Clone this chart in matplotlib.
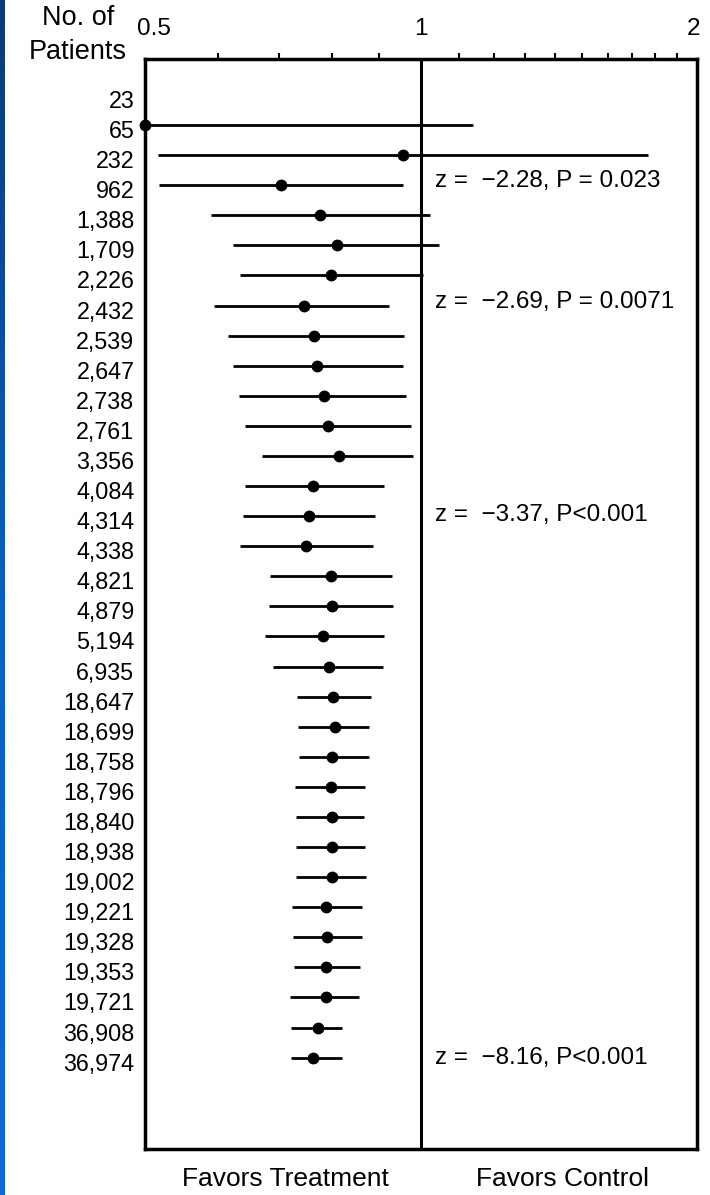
import numpy as np
import matplotlib
matplotlib.use("Agg")
import matplotlib.pyplot as plt
from matplotlib.ticker import NullFormatter, FixedLocator
from matplotlib.transforms import ScaledTranslation
from matplotlib.colors import LinearSegmentedColormap

plt.rcParams['font.family'] = ['Liberation Sans', 'DejaVu Sans']

# ---- data ----
patients = ["23", "65", "232", "962", "1,388", "1,709", "2,226", "2,432", "2,539",
            "2,647", "2,738", "2,761", "3,356", "4,084", "4,314", "4,338", "4,821",
            "4,879", "5,194", "6,935", "18,647", "18,699", "18,758", "18,796",
            "18,840", "18,938", "19,002", "19,221", "19,328", "19,353", "19,721",
            "36,908", "36,974"]

odds_ratio = [np.nan, 0.50, 0.957, 0.703, 0.776, 0.810, 0.797, 0.745, 0.765,
              0.771, 0.783, 0.792, 0.814, 0.763, 0.754, 0.749, 0.798,
              0.799, 0.781, 0.794, 0.802, 0.805, 0.800, 0.798,
              0.799, 0.799, 0.800, 0.788, 0.789, 0.787, 0.788,
              0.772, 0.763]

ci_low = [np.nan, 0.25, 0.516, 0.518, 0.590, 0.624, 0.634, 0.595, 0.616,
          0.624, 0.633, 0.643, 0.671, 0.643, 0.639, 0.635, 0.685,
          0.683, 0.676, 0.690, 0.733, 0.734, 0.736, 0.729,
          0.731, 0.730, 0.730, 0.724, 0.726, 0.727, 0.720,
          0.722, 0.722]

ci_high = [np.nan, 1.14, 1.77, 0.957, 1.023, 1.045, 1.006, 0.923, 0.959,
           0.957, 0.962, 0.975, 0.980, 0.912, 0.892, 0.887, 0.930,
           0.933, 0.911, 0.909, 0.883, 0.877, 0.877, 0.869,
           0.867, 0.868, 0.871, 0.863, 0.863, 0.857, 0.856,
           0.821, 0.821]

x_ticks = [0.5, 1, 2]
x_tick_labels = ["0.5", "1", "2"]
minor_ticks = [0.6, 0.7, 0.8, 0.9, 1.1, 1.2, 1.3, 1.4, 1.5, 1.6, 1.7, 1.8, 1.9]

z_texts = ["z =  \u22122.28, P = 0.023",
           "z =  \u22122.69, P = 0.0071",
           "z =  \u22123.37, P<0.001",
           "z =  \u22128.16, P<0.001"]
z_rows = [2.87, 6.87, 13.95, 32.0]

# ---- figure ----
W, H = 710, 1195
fig = plt.figure(figsize=(W / 100, H / 100), dpi=100)
fig.patch.set_facecolor("white")

# blue strip on the left edge
strip = fig.add_axes([0, 0, 4.5 / W, 1])
grad = np.linspace(0, 1, 256).reshape(-1, 1)
cmap = LinearSegmentedColormap.from_list("edge", ["#0c3a78", "#0a5fc4", "#0b6ad8"])
strip.imshow(grad, aspect="auto", cmap=cmap, origin="upper")
strip.set_axis_off()

left, right, top, bottom = 145, 697, 58.5, 1148.5
ax = fig.add_axes([left / W, 1 - bottom / H, (right - left) / W, (bottom - top) / H])

n = len(patients)
y = np.arange(n)
est = np.array(odds_ratio)
lo = np.array(ci_low)
hi = np.array(ci_high)

ax.set_xscale("log")
ax.set_xlim(0.5, 2)
ax.set_ylim(35.02, -1.21)

ax.hlines(y, lo, hi, color="black", lw=2.0)
pts = ax.plot(est, y, "o", color="black", ms=7.5)[0]
pts.set_clip_on(False)

ax.axvline(1, color="black", lw=2.2)

# axes styling
for s in ax.spines.values():
    s.set_linewidth(2.5)
    s.set_color("black")

ax.xaxis.tick_top()
ax.xaxis.set_major_locator(FixedLocator(x_ticks))
ax.set_xticklabels(x_tick_labels)
ax.xaxis.set_minor_locator(FixedLocator(minor_ticks))
ax.xaxis.set_minor_formatter(NullFormatter())
ax.tick_params(axis="x", which="major", length=0, pad=13, labelsize=17.5)
ax.tick_params(axis="x", which="minor", direction="out", length=4.5, width=1.5, top=True, bottom=False)

ax.set_yticks(y)
ax.set_yticklabels(patients)
ax.tick_params(axis="y", length=0, pad=7.6, labelsize=16.8)
for lab in ax.get_yticklabels():
    lab.set_transform(lab.get_transform() + ScaledTranslation(0, -4 / 100, fig.dpi_scale_trans))

# shift the 0.5 label slightly right and the 2 label slightly left
xl = ax.get_xticklabels()
xl[0].set_transform(xl[0].get_transform() + ScaledTranslation(9 / 100, 0, fig.dpi_scale_trans))
xl[2].set_transform(xl[2].get_transform() + ScaledTranslation(-3 / 100, 0, fig.dpi_scale_trans))

for txt, r in zip(z_texts, z_rows):
    ax.text(1.036, r, txt, ha="left", va="center", fontsize=17.5)

ax.text(0.254, -0.028, "Favors Treatment", transform=ax.transAxes,
        ha="center", va="center", fontsize=19)
ax.text(0.756, -0.028, "Favors Control", transform=ax.transAxes,
        ha="center", va="center", fontsize=19)

fig.text(78 / W, 1 - 18 / H, "No. of", ha="center", va="center", fontsize=19.5)
fig.text(78 / W, 1 - 52 / H, "Patients", ha="center", va="center", fontsize=19.5)

fig.savefig("out.png", dpi=100)
